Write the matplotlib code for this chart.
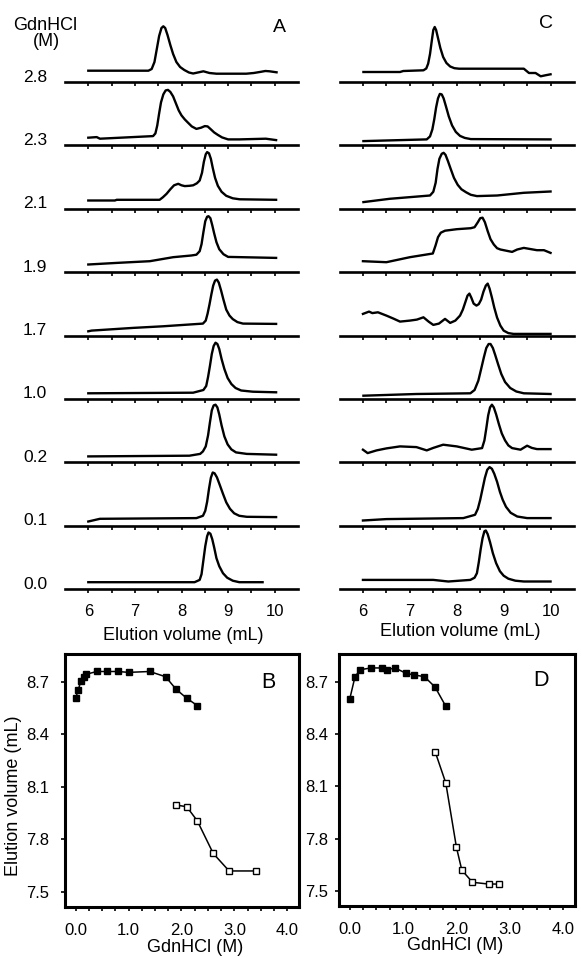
import matplotlib
matplotlib.use("Agg")
import matplotlib.pyplot as plt
from matplotlib.ticker import MultipleLocator, FixedLocator

plt.rcParams['font.family'] = ['Liberation Sans', 'DejaVu Sans']

# ---------------- data: chromatograms (elution volume mL, relative absorbance) ----------------
conc_labels = ["2.8", "2.3", "2.1", "1.9", "1.7", "1.0", "0.2", "0.1", "0.0"]

A_28 = [(6.0, 11.3), (7.29, 11.3), (7.36, 13), (7.42, 20), (7.47, 33), (7.52, 46), (7.57, 54),
        (7.61, 55.7), (7.65, 54), (7.70, 47), (7.76, 37), (7.82, 28), (7.89, 20), (7.97, 15),
        (8.06, 12), (8.16, 9.5), (8.25, 8.5), (8.35, 9.5), (8.47, 10.7), (8.6, 9), (8.75, 8.3),
        (9.39, 8.3), (9.55, 9), (9.68, 10), (9.8, 11), (9.89, 10.7), (10.04, 9.7)]
A_23 = [(6.0, 7.7), (6.18, 8.3), (6.25, 6.7), (7.39, 9.3), (7.44, 12), (7.48, 20), (7.52, 32),
        (7.56, 43), (7.61, 51), (7.66, 55), (7.71, 55.5), (7.76, 53.5), (7.82, 49), (7.88, 42),
        (7.94, 35), (8.0, 30), (8.07, 26), (8.14, 22.7), (8.22, 19), (8.32, 16.5), (8.42, 17.7),
        (8.5, 19.3), (8.56, 19), (8.62, 16.5), (8.7, 13), (8.78, 10.5), (8.87, 8), (9.0, 6),
        (9.24, 6), (9.81, 6.7), (10.03, 5.3)]
A_21 = [(6.0, 8.3), (6.57, 8.3), (6.61, 9), (7.53, 9), (7.6, 11.5), (7.68, 15), (7.76, 19.5),
        (7.84, 23.5), (7.93, 25), (8.0, 23.5), (8.07, 22.7), (8.17, 23), (8.25, 23.5), (8.33, 25.5),
        (8.39, 28.3), (8.44, 36), (8.48, 47), (8.52, 54.5), (8.55, 56.7), (8.59, 55.5), (8.63, 50),
        (8.67, 41), (8.72, 31), (8.78, 23), (8.86, 17), (8.96, 13), (9.1, 10.5), (9.25, 9.5),
        (10.03, 9)]
A_19 = [(6.0, 7.7), (6.61, 9.3), (7.32, 11), (7.82, 15), (8.21, 16.7), (8.32, 17.5), (8.39, 21),
        (8.43, 28), (8.47, 40), (8.51, 51), (8.55, 55.5), (8.58, 56), (8.62, 54), (8.66, 47),
        (8.70, 39), (8.75, 30), (8.81, 23), (8.9, 18), (9.0, 15.3), (10.03, 14.3)]
A_17 = [(6.0, 4.3), (6.07, 5), (6.96, 7.7), (7.6, 9.3), (8.46, 12), (8.52, 15), (8.56, 22),
        (8.60, 31), (8.64, 41), (8.68, 50), (8.72, 55), (8.76, 56), (8.80, 53), (8.85, 45),
        (8.90, 36), (8.96, 26), (9.03, 20), (9.10, 16.5), (9.20, 13.5), (9.32, 12), (10.03, 11.7)]
A_10 = [(6.0, 5.7), (8.25, 6.3), (8.47, 9), (8.53, 13), (8.57, 22), (8.61, 33), (8.65, 45),
        (8.69, 53), (8.73, 56.3), (8.77, 55), (8.81, 50), (8.86, 40), (8.92, 30), (8.99, 21),
        (9.07, 15), (9.16, 11), (9.28, 8.5), (9.53, 7.3), (10.03, 6.7)]
A_02 = [(6.0, 6), (8.17, 6.7), (8.40, 8.5), (8.46, 11), (8.52, 16), (8.57, 27), (8.61, 40),
        (8.65, 52), (8.69, 57), (8.73, 57.7), (8.77, 55), (8.81, 48), (8.86, 37), (8.92, 26),
        (8.99, 18), (9.07, 13), (9.17, 10), (9.4, 8.5), (10.03, 7.7)]
A_01 = [(6.0, 4.3), (6.25, 7), (8.32, 7.7), (8.46, 10), (8.51, 15), (8.55, 24), (8.59, 37),
        (8.63, 48), (8.67, 53.3), (8.71, 52.5), (8.76, 48.5), (8.82, 41), (8.89, 32), (8.96, 23.5),
        (9.04, 17), (9.13, 12.5), (9.24, 10), (9.4, 9), (10.03, 8.7)]
A_00 = [(6.0, 7), (8.28, 7), (8.39, 9.3), (8.43, 15), (8.47, 29), (8.51, 43), (8.55, 53),
        (8.58, 56.7), (8.62, 55.5), (8.66, 50), (8.70, 42), (8.75, 31), (8.81, 23), (8.89, 16),
        (8.98, 11.5), (9.10, 8.5), (9.24, 7), (9.74, 7)]

C_1 = [(6.01, 10), (6.79, 10), (6.86, 11), (7.29, 11.7), (7.35, 13.5), (7.39, 18.3), (7.43, 28),
       (7.47, 42), (7.50, 52), (7.53, 55), (7.56, 52), (7.60, 44), (7.65, 34), (7.71, 25),
       (7.78, 19), (7.86, 15.5), (7.95, 13.8), (8.05, 13.3), (9.43, 13.3), (9.54, 9), (9.68, 9),
       (9.79, 5.7), (9.89, 6.7), (10.0, 7.7)]
C_2 = [(6.01, 4.3), (7.36, 6), (7.43, 9), (7.48, 16), (7.52, 26), (7.56, 38), (7.60, 47),
       (7.64, 51.5), (7.68, 51), (7.72, 47), (7.77, 39), (7.83, 29), (7.90, 20), (7.98, 13.5),
       (8.07, 9.5), (8.17, 7.5), (8.30, 6.3), (10.0, 6)]
C_3 = [(6.01, 6.7), (6.57, 10), (7.43, 13.3), (7.50, 17), (7.55, 26), (7.59, 40), (7.63, 50),
       (7.68, 55), (7.72, 56), (7.76, 54), (7.81, 48), (7.87, 40), (7.94, 31), (8.02, 24),
       (8.10, 19.5), (8.20, 16.5), (8.30, 14), (8.43, 12.7), (8.86, 13.3), (9.43, 16), (10.0, 17.3)]
C_4 = [(6.0, 11), (6.5, 10), (7.0, 15), (7.49, 18.7), (7.55, 27), (7.60, 35), (7.66, 39.5),
       (7.75, 41.5), (8.0, 43), (8.30, 44), (8.38, 45), (8.45, 50), (8.50, 54), (8.55, 54.5),
       (8.60, 50), (8.66, 41), (8.72, 33), (8.79, 27.7), (8.86, 24), (8.93, 22.7), (9.18, 20.3),
       (9.29, 22.7), (9.43, 24.3), (9.71, 22), (9.86, 22), (10.0, 19.3)]
C_5 = [(6.0, 21.7), (6.13, 24), (6.2, 22.5), (6.32, 23.3), (6.5, 20), (6.65, 17), (6.79, 14),
       (7.0, 15), (7.15, 16), (7.29, 18.3), (7.4, 14), (7.5, 10.7), (7.62, 12), (7.75, 16.7),
       (7.86, 12.7), (7.97, 15), (8.07, 20), (8.13, 26), (8.18, 33), (8.23, 40), (8.27, 42),
       (8.31, 38), (8.36, 32), (8.42, 30), (8.47, 31.5), (8.52, 36), (8.57, 44), (8.62, 50),
       (8.66, 52), (8.70, 47), (8.75, 38), (8.80, 28), (8.86, 18), (8.93, 10), (9.0, 5),
       (9.1, 2.5), (9.21, 1.7), (10.0, 1.7)]
C_6 = [(6.01, 3.3), (7.14, 5), (8.29, 5.7), (8.38, 9), (8.46, 18.3), (8.52, 30), (8.58, 42),
       (8.63, 51), (8.68, 55), (8.72, 55), (8.77, 51), (8.82, 44), (8.88, 35), (8.95, 25),
       (9.03, 17), (9.14, 11), (9.27, 7.5), (9.43, 5.7), (10.0, 5)]
C_7 = [(6.0, 12.7), (6.1, 9.3), (6.29, 12), (6.5, 14), (6.79, 16), (7.14, 15.3), (7.36, 12),
       (7.5, 14.5), (7.71, 17.7), (8.0, 16), (8.32, 12.7), (8.54, 14.3), (8.59, 22), (8.63, 34),
       (8.67, 47), (8.71, 55), (8.75, 57.7), (8.79, 55), (8.84, 48), (8.90, 38), (8.96, 29),
       (9.03, 22), (9.10, 17), (9.18, 14.3), (9.36, 12.7), (9.5, 16.7), (9.6, 14.5), (9.71, 13.3),
       (10.0, 13.3)]
C_8 = [(6.0, 5.3), (6.5, 6.7), (8.14, 7.7), (8.39, 11), (8.45, 17), (8.50, 26), (8.55, 37),
       (8.60, 48), (8.65, 56), (8.70, 58.7), (8.75, 57), (8.80, 52), (8.86, 44), (8.92, 34),
       (8.98, 26), (9.05, 19), (9.15, 13), (9.29, 9.3), (9.5, 7.7), (10.0, 7.7)]
C_9 = [(6.0, 9.3), (7.5, 9.3), (7.82, 7.7), (8.29, 9.3), (8.38, 11.5), (8.43, 16), (8.47, 27),
       (8.51, 40), (8.55, 51), (8.59, 58), (8.62, 58.7), (8.66, 55), (8.71, 47), (8.77, 36),
       (8.84, 26), (8.92, 18), (9.0, 13.5), (9.1, 10.5), (9.25, 8.5), (9.43, 7.7), (10.0, 7.7)]

traces_A = [A_28, A_23, A_21, A_19, A_17, A_10, A_02, A_01, A_00]
traces_C = [C_1, C_2, C_3, C_4, C_5, C_6, C_7, C_8, C_9]

# ---------------- data: elution volume vs GdnHCl ----------------
B_folded_x = [0.0, 0.05, 0.1, 0.15, 0.2, 0.4, 0.6, 0.8, 1.0, 1.4, 1.7, 1.9, 2.1, 2.3]
B_folded_y = [8.607, 8.654, 8.707, 8.73, 8.744, 8.76, 8.76, 8.76, 8.755, 8.76, 8.73, 8.658, 8.607, 8.565]
B_unfold_x = [1.9, 2.1, 2.3, 2.6, 2.9, 3.4]
B_unfold_y = [7.997, 7.987, 7.906, 7.72, 7.62, 7.62]

D_folded_x = [0.0, 0.1, 0.2, 0.4, 0.6, 0.7, 0.85, 1.05, 1.2, 1.4, 1.6, 1.8]
D_folded_y = [8.60, 8.73, 8.77, 8.78, 8.78, 8.77, 8.78, 8.75, 8.74, 8.73, 8.67, 8.56]
D_unfold_x = [1.6, 1.8, 2.0, 2.1, 2.3, 2.6, 2.8]
D_unfold_y = [8.30, 8.12, 7.75, 7.62, 7.55, 7.54, 7.54]

x_ticks_ev = [6, 7, 8, 9, 10]
y_ticks_ev = [7.5, 7.8, 8.1, 8.4, 8.7]
x_ticks_gdn = [0, 1, 2, 3, 4]

# ---------------- layout helpers ----------------
W, H = 582, 958
fig = plt.figure(figsize=(W / 100, H / 100), dpi=100)


def px_axes(x0, y0, x1, y1):
    return fig.add_axes([x0 / W, 1 - y1 / H, (x1 - x0) / W, (y1 - y0) / H])


def ftext(x, y, s, **kw):
    fig.text(x / W, 1 - y / H, s, **kw)


row_h = 63.4
first_axis_y = 82.0


def stack_panel(x0, x1, traces, letter, letter_xy):
    for i, tr in enumerate(traces):
        ybase = first_axis_y + i * row_h
        ax = px_axes(x0, ybase - row_h, x1, ybase)
        ax.patch.set_alpha(0)
        xs = [p[0] for p in tr]
        ys = [p[1] for p in tr]
        ax.plot(xs, ys, color='black', lw=1.7, clip_on=False, solid_joinstyle='round')
        ax.set_xlim(5.5, 10.5)
        ax.set_ylim(0, row_h)
        for s in ['top', 'right', 'left']:
            ax.spines[s].set_visible(False)
        ax.spines['bottom'].set_linewidth(1.9)
        ax.set_yticks([])
        ax.xaxis.set_major_locator(FixedLocator(x_ticks_ev))
        ax.xaxis.set_minor_locator(FixedLocator([6.5, 7.5, 8.5, 9.5]))
        ax.tick_params(axis='x', which='both', direction='out', length=3, width=1.2, pad=8,
                       labelsize=12)
        if i < len(traces) - 1:
            ax.set_xticklabels([])
        else:
            ax.set_xticklabels([str(t) for t in x_ticks_ev])
    ftext(letter_xy[0], letter_xy[1], letter, fontsize=14, ha='center', va='center')


stack_panel(65, 298, traces_A, "A", (279, 28))
stack_panel(339.5, 574, traces_C, "C", (546, 24))

for i, lab in enumerate(conc_labels):
    ftext(35, first_axis_y + i * row_h - 5, lab, fontsize=12.5, ha='center', va='center')
ftext(45, 26, "GdnHCl", fontsize=13, ha='center', va='center')
ftext(46, 42, "(M)", fontsize=13, ha='center', va='center')

ftext(183, 636, "Elution volume (mL)", fontsize=13, ha='center', va='center')
ftext(460, 631, "Elution volume (mL)", fontsize=13, ha='center', va='center')


def gdn_panel(x0, y0, x1, y1, fx, fy, ux, uy, letter, letter_xy, ypad):
    ax = px_axes(x0, y0, x1, y1)
    ax.plot(fx, fy, '-', color='black', lw=1.1, marker='s', ms=4.8, mfc='black', mec='black')
    ax.plot(ux, uy, '-', color='black', lw=1.1, marker='s', ms=4.4, mfc='white', mec='black',
            mew=1.0)
    ax.set_xlim(-0.2, 4.22)
    ax.set_ylim(7.414, 8.86)
    for s in ax.spines.values():
        s.set_linewidth(2.2)
    ax.xaxis.set_major_locator(FixedLocator(x_ticks_gdn))
    ax.xaxis.set_minor_locator(MultipleLocator(0.25))
    ax.set_xticklabels([f"{t:.1f}" for t in x_ticks_gdn])
    ax.yaxis.set_major_locator(FixedLocator(y_ticks_ev))
    ax.set_yticklabels([f"{t:.1f}" for t in y_ticks_ev])
    ax.tick_params(axis='x', which='both', direction='out', length=3, width=1.2, pad=8.5,
                   labelsize=12)
    ax.tick_params(axis='y', which='both', direction='out', length=3, width=1.2, pad=ypad,
                   labelsize=12)
    ftext(letter_xy[0], letter_xy[1], letter, fontsize=15.5, ha='center', va='center')
    return ax


gdn_panel(65, 654, 299, 907, B_folded_x, B_folded_y, B_unfold_x, B_unfold_y, "B", (268, 683), 8.5)
gdn_panel(339, 654, 575, 906, D_folded_x, D_folded_y, D_unfold_x, D_unfold_y, "D", (541, 680), 5)

ftext(195, 948, "GdnHCl (M)", fontsize=13, ha='center', va='center')
ftext(455, 946, "GdnHCl (M)", fontsize=13, ha='center', va='center')
ftext(14, 796, "Elution volume (mL)", fontsize=13, ha='center', va='center', rotation=90)

fig.savefig("out.png", dpi=100)
